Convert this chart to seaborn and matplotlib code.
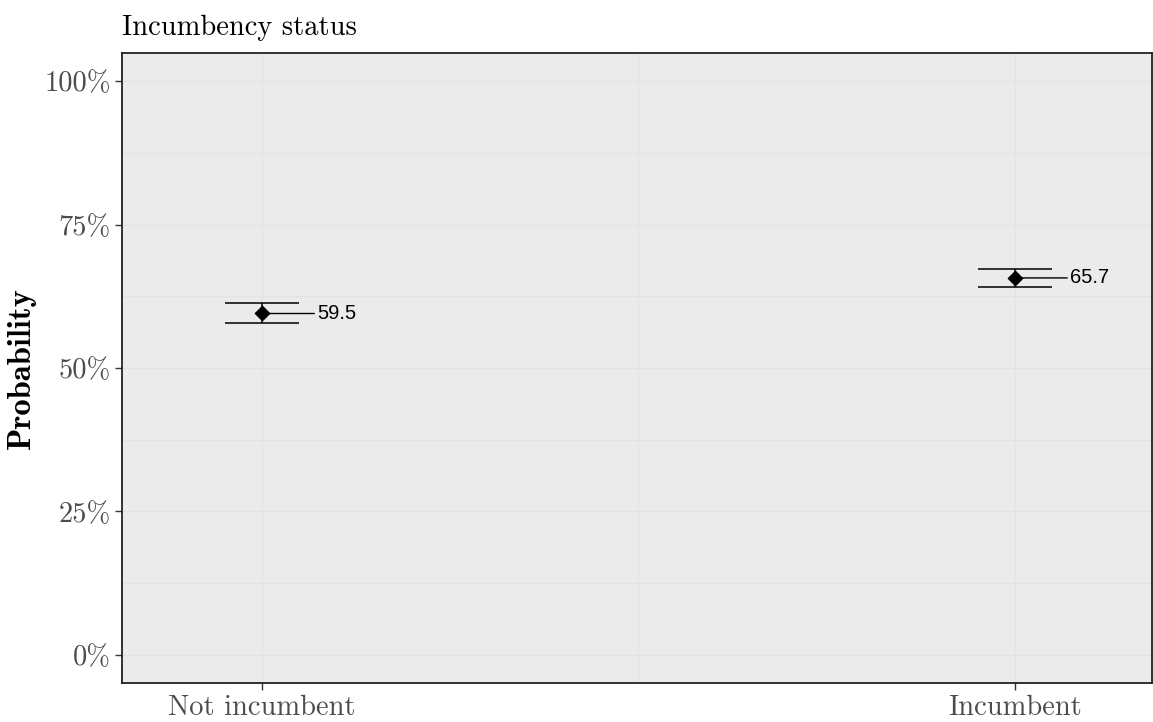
import matplotlib
matplotlib.use("Agg")
import matplotlib.pyplot as plt
import seaborn as sns
import pandas as pd
import numpy as np

categories = ["Not incumbent", "Incumbent"]
estimates = [59.5, 65.7]
lower = [57.8, 64.2]
upper = [61.3, 67.2]
labels = ["59.5", "65.7"]
y_ticks = [0, 25, 50, 75, 100]
y_tick_labels = ["0%", "25%", "50%", "75%", "100%"]

sns.set_theme(style="white")
plt.rcParams["font.family"] = ["cmr10", "DejaVu Serif"]
plt.rcParams["axes.formatter.use_mathtext"] = True

df = pd.DataFrame({"pos": np.arange(len(categories)), "cat": categories,
                   "est": estimates, "lo": lower, "hi": upper, "lab": labels})

fig = plt.figure(figsize=(11.53, 7.22), dpi=100)
ax = fig.add_axes([0.1058, 0.054, 0.8933, 0.8726])
ax.set_facecolor("#ebebeb")

# grid
for yv in np.arange(0, 101, 12.5):
    ax.axhline(yv, color="#e3e3e3", lw=0.9, zorder=0)
for xv in [0, 0.5, 1]:
    ax.axvline(xv, color="#e3e3e3", lw=0.9, zorder=0)

ax.errorbar(df["pos"], df["est"],
            yerr=[df["est"] - df["lo"], df["hi"] - df["est"]],
            fmt="none", ecolor="black", elinewidth=1.1, capsize=26.6, capthick=1.1, zorder=3)
sns.scatterplot(data=df, x="pos", y="est", ax=ax, color="black", marker="D",
                s=58, edgecolor="black", zorder=4, legend=False)

for _, r in df.iterrows():
    ax.annotate(r["lab"], xy=(r["pos"], r["est"]), xytext=(40, 0),
                textcoords="offset points", va="center", ha="left",
                fontsize=14.5, family=["Liberation Sans Narrow", "Liberation Sans", "DejaVu Sans"],
                color="black",
                arrowprops=dict(arrowstyle="-", color="black", lw=1.0,
                                shrinkA=0, shrinkB=1), zorder=5)

ax.set_xlim(-0.186, 1.182)
ax.set_ylim(-4.9, 104.9)
ax.set_xticks(df["pos"])
ax.set_xticklabels(categories)
ax.set_yticks(y_ticks)
ax.set_yticklabels(y_tick_labels)
ax.tick_params(axis="both", which="major", length=5, width=1, color="#333333",
               labelsize=20.5, labelcolor="#4d4d4d", pad=3, left=True, bottom=True)
ax.tick_params(axis="x", pad=3.5)
for lab in ax.get_xticklabels() + ax.get_yticklabels():
    lab.set_family(["cmr10", "DejaVu Serif"])

for sp in ax.spines.values():
    sp.set_color("#222222")
    sp.set_linewidth(1.3)
    sp.set_visible(True)

ax.set_xlabel("")
ax.set_ylabel("Probability", fontsize=23.5, family=["cmb10", "DejaVu Serif"],
              color="black", labelpad=6)
ax.set_title("Incumbency status", loc="left", fontsize=20.5, color="black", pad=13,
             family=["cmr10", "DejaVu Serif"])

fig.savefig("out.png", dpi=100)
